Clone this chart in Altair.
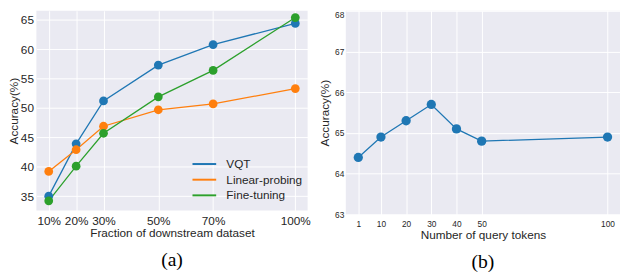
import altair as alt
import pandas as pd

# ---------------- data ----------------
fractions = [10, 20, 30, 50, 70, 100]
methods = ["VQT", "Linear-probing", "Fine-tuning"]
vqt_acc = [35.0, 43.9, 51.2, 57.3, 60.8, 64.4]
linear_acc = [39.2, 42.9, 46.9, 49.7, 50.7, 53.3]
finetune_acc = [34.2, 40.1, 45.7, 51.9, 56.4, 65.4]
method_colors = ["#1f77b4", "#ff7f0e", "#2ca02c"]
yticks_a = [35, 40, 45, 50, 55, 60, 65]

tokens = [1, 10, 20, 30, 40, 50, 100]
token_acc = [64.4, 64.9, 65.3, 65.7, 65.1, 64.8, 64.9]
yticks_b = [63, 64, 65, 66, 67, 68]

rows = []
for m, vals in zip(methods, [vqt_acc, linear_acc, finetune_acc]):
    for f, v in zip(fractions, vals):
        rows.append({"method": m, "fraction": f, "acc": v})
df_a = pd.DataFrame(rows)
df_b = pd.DataFrame({"tokens": tokens, "acc": token_acc})

FONT = "Liberation Sans"
TXT = "#262626"
BG = "#EAEAF2"

common_axis = dict(ticks=False, domain=False, grid=True, gridColor="white",
                   gridWidth=1, labelColor=TXT, titleColor=TXT, labelFont=FONT,
                   titleFont=FONT, titleFontWeight="normal", labelFlush=False,
                   labelOverlap=False)

# ---------------- panel (a) ----------------
xa = alt.X("fraction:Q",
           scale=alt.Scale(domain=[5.5, 104.5], nice=False, zero=False),
           axis=alt.Axis(values=fractions, labelExpr="datum.value + '%'",
                         title="Fraction of downstream dataset",
                         labelFontSize=12, titleFontSize=12,
                         labelPadding=5, titlePadding=2, **common_axis))
ya = alt.Y("acc:Q",
           scale=alt.Scale(domain=[32.55, 66.55], nice=False, zero=False),
           axis=alt.Axis(values=yticks_a, title="Accuracy(%)",
                         labelFontSize=12, titleFontSize=12,
                         labelPadding=3, titlePadding=0, **common_axis))
cscale = alt.Scale(domain=methods, range=method_colors)

lines_a = alt.Chart(df_a).mark_line(strokeWidth=1.3).encode(
    x=xa, y=ya,
    color=alt.Color("method:N", scale=cscale, sort=methods,
                    legend=alt.Legend(title=None, orient="none",
                                      legendX=165, legendY=150,
                                      symbolType="M-2.2,0H2.2", symbolSize=121,
                                      symbolStrokeWidth=2, labelOffset=16,
                                      labelFontSize=12, labelFont=FONT,
                                      labelColor=TXT, rowPadding=3, padding=0)),
)
points_a = alt.Chart(df_a).mark_circle(size=80, opacity=1).encode(
    x=xa, y=ya,
    color=alt.Color("method:N", scale=cscale, sort=methods, legend=None),
)
panel_a = alt.layer(lines_a, points_a).properties(
    width=277, height=204,
    title=alt.TitleParams("(a)", orient="bottom", font="Liberation Serif",
                          fontSize=20, fontWeight="normal", color="black",
                          offset=12),
)

# ---------------- panel (b) ----------------
xb = alt.X("tokens:Q",
           scale=alt.Scale(domain=[-3.95, 104.95], nice=False, zero=False),
           axis=alt.Axis(values=tokens, title="Number of query tokens",
                         labelFontSize=8.5, titleFontSize=12,
                         labelPadding=5, titlePadding=2.5, **common_axis))
yb = alt.Y("acc:Q",
           scale=alt.Scale(domain=[63, 68], nice=False, zero=False),
           axis=alt.Axis(values=yticks_b, title="Accuracy(%)",
                         labelFontSize=8.5, titleFontSize=12,
                         labelBaseline={"condition": {"test": "datum.value == 68",
                                                      "value": "top"},
                                        "value": "middle"},
                         labelPadding=2, titlePadding=3, **common_axis))
line_b = alt.Chart(df_b).mark_line(strokeWidth=1.3, color="#1f77b4").encode(x=xb, y=yb)
points_b = alt.Chart(df_b).mark_circle(size=90, opacity=1, color="#1f77b4").encode(x=xb, y=yb)
panel_b = alt.layer(line_b, points_b).properties(
    width=280, height=208,
    title=alt.TitleParams("(b)", orient="bottom", font="Liberation Serif",
                          fontSize=20, fontWeight="normal", color="black",
                          offset=12),
)

chart = alt.hconcat(panel_a, panel_b, spacing=8).properties(
    padding={"left": -1, "top": 0, "right": 0, "bottom": 0},
    background="white",
).configure_view(fill=BG, stroke=None)

chart.save("out.html", embed_options={"renderer": "svg", "actions": False})
